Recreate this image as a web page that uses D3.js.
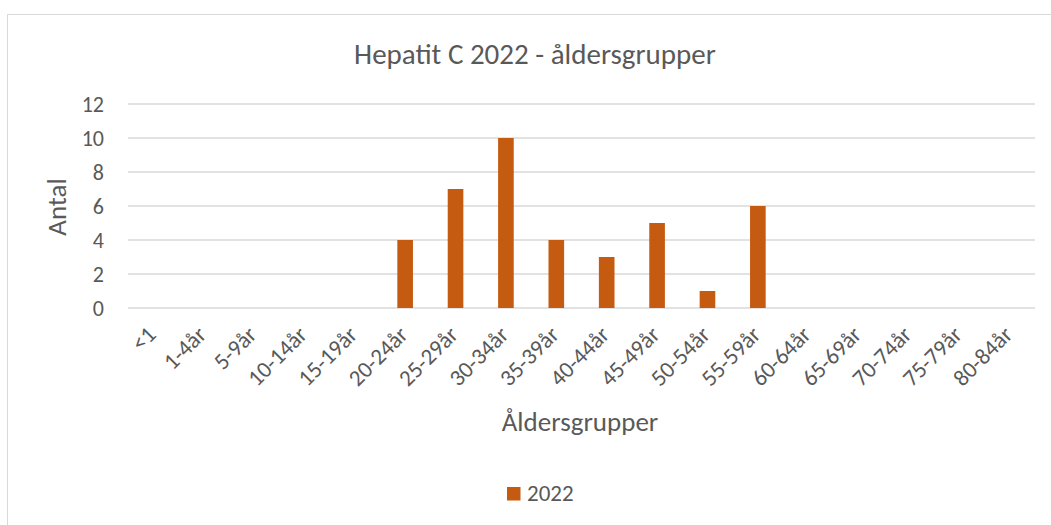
<!DOCTYPE html>
<html>
<head>
<meta charset="utf-8">
<script src="https://cdn.jsdelivr.net/npm/d3@7"></script>
<style>
  body { margin: 0; background: #fff; }
  svg text { font-family: Carlito, Lato, "Open Sans", sans-serif; fill: #595959; }
</style>
</head>
<body>
<svg id="chart"></svg>
<script>
// data
var categories = ["<1", "1-4år", "5-9år", "10-14år", "15-19år", "20-24år", "25-29år", "30-34år",
  "35-39år", "40-44år", "45-49år", "50-54år", "55-59år", "60-64år", "65-69år", "70-74år", "75-79år", "80-84år"];
var values2022 = [0, 0, 0, 0, 0, 4, 7, 10, 4, 3, 5, 1, 6, 0, 0, 0, 0, 0];
var yTicks = [0, 2, 4, 6, 8, 10, 12];
var seriesName = "2022";

var width = 1051,
    height = 525;

var svg = d3.select("#chart")
  .attr("width", width)
  .attr("height", height);

// chart border
svg.append("rect")
  .attr("x", 7.5).attr("y", 14.5)
  .attr("width", 1060).attr("height", 530)
  .attr("fill", "none")
  .attr("stroke", "#d9d9d9")
  .attr("stroke-width", 1);

// plot area
var plotLeft = 128, plotRight = 1035, plotTop = 104, plotBottom = 308;

var x = d3.scaleBand()
  .domain(categories)
  .range([plotLeft, plotRight])
  .paddingInner(0.69)
  .paddingOuter(0.345);

var y = d3.scaleLinear()
  .domain([0, 12])
  .range([plotBottom, plotTop]);

// gridlines
svg.append("g")
  .selectAll("line")
  .data(yTicks)
  .enter().append("line")
  .attr("x1", plotLeft).attr("x2", plotRight)
  .attr("y1", function (d) { return y(d); })
  .attr("y2", function (d) { return y(d); })
  .attr("stroke", "#d9d9d9")
  .attr("stroke-width", 1.5);

// y tick labels
svg.append("g")
  .selectAll("text")
  .data(yTicks)
  .enter().append("text")
  .attr("x", 104)
  .attr("y", function (d) { return y(d); })
  .attr("dy", "0.35em")
  .style("text-anchor", "end")
  .style("font-size", "22px")
  .text(function (d) { return d; });

// bars
svg.append("g")
  .selectAll("rect")
  .data(values2022)
  .enter().append("rect")
  .attr("x", function (d, i) { return x(categories[i]); })
  .attr("y", function (d) { return y(d); })
  .attr("width", x.bandwidth())
  .attr("height", function (d) { return y(0) - y(d); })
  .attr("fill", "#c55a11");

// x tick labels, rotated
svg.append("g")
  .selectAll("text")
  .data(categories)
  .enter().append("text")
  .attr("transform", function (d) {
    return "translate(" + (x(d) + x.bandwidth() / 2 + 4) + "," + 336 + ") rotate(-45)";
  })
  .style("text-anchor", "end")
  .style("font-size", "23px")
  .text(function (d) { return d; });

// title
svg.append("text")
  .attr("x", 535)
  .attr("y", 64)
  .style("text-anchor", "middle")
  .style("font-size", "29px")
  .text("Hepatit C 2022 - åldersgrupper");

// axis titles
svg.append("text")
  .attr("transform", "translate(66,207) rotate(-90)")
  .style("text-anchor", "middle")
  .style("font-size", "27px")
  .text("Antal");

svg.append("text")
  .attr("x", 580)
  .attr("y", 431)
  .style("text-anchor", "middle")
  .style("font-size", "27px")
  .text("Åldersgrupper");

// legend
var legend = svg.append("g").attr("transform", "translate(507,487)");
legend.append("rect")
  .attr("width", 13.5).attr("height", 13.5)
  .attr("fill", "#c55a11");
legend.append("text")
  .attr("x", 20)
  .attr("y", 14)
  .style("font-size", "23px")
  .text(seriesName);
</script>
</body>
</html>
